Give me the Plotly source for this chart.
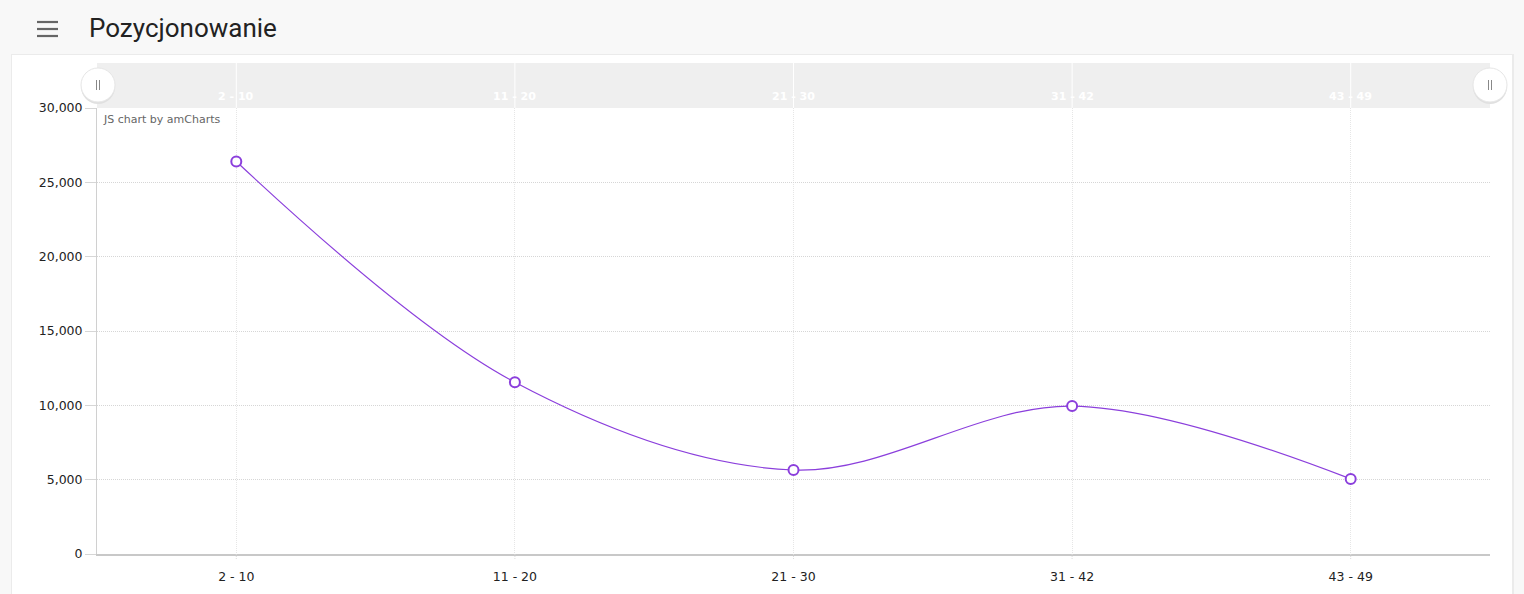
import plotly.graph_objects as go

categories = ["2 - 10", "11 - 20", "21 - 30", "31 - 42", "43 - 49"]
values = [26400, 11550, 5650, 9950, 5050]
y_ticks = [0, 5000, 10000, 15000, 20000, 25000, 30000]
y_tick_labels = ["0", "5,000", "10,000", "15,000", "20,000", "25,000", "30,000"]
title_text = "Pozycjonowanie"

W, H = 1524, 594
px0, px1 = 97, 1490
py_top, py_bot = 108, 554
def fx(p): return p / W
def fy(p): return min(1.0, max(0.0, 1 - p / H))

purple = "#8b3fdc"
tick_font = dict(family="DejaVu Sans, Verdana, sans-serif", size=12.5, color="#222")

fig = go.Figure()
fig.add_trace(go.Scatter(
    x=categories, y=values, mode="lines+markers",
    line=dict(color=purple, width=1.2, shape="spline", smoothing=1.0),
    marker=dict(size=10, color="white", line=dict(color=purple, width=2)),
    hoverinfo="x+y", showlegend=False, cliponaxis=False,
))

shapes = []
shapes.append(dict(type="rect", xref="paper", yref="paper", x0=0, x1=1, y0=0, y1=1,
                   fillcolor="#f8f8f8", line_width=0, layer="below"))
shapes.append(dict(type="rect", xref="paper", yref="paper", x0=fx(11), x1=fx(1514), y0=0, y1=fy(54),
                   fillcolor="#ebebeb", line_width=0, layer="below"))
shapes.append(dict(type="rect", xref="paper", yref="paper", x0=fx(12), x1=fx(1512), y0=0, y1=fy(55),
                   fillcolor="white", line_width=0, layer="below"))
shapes.append(dict(type="rect", xref="paper", yref="paper", x0=fx(px0), x1=fx(px1), y0=fy(py_top), y1=fy(63),
                   fillcolor="#efefef", line_width=0, layer="below"))
for yy in (22, 29, 36):
    shapes.append(dict(type="line", xref="paper", yref="paper", x0=fx(37), x1=fx(58), y0=fy(yy), y1=fy(yy),
                       line=dict(color="#666", width=2.2)))
for c in categories:
    shapes.append(dict(type="line", xref="x", yref="paper", x0=c, x1=c, y0=fy(py_top), y1=fy(63),
                       line=dict(color="white", width=1), layer="below"))
    shapes.append(dict(type="line", xref="x", yref="paper", x0=c, x1=c, y0=fy(py_bot), y1=fy(560),
                       line=dict(color="#dddddd", width=1, dash="1px,1px")))

annotations = []
annotations.append(dict(text=title_text, xref="paper", yref="paper", x=fx(87), y=fy(28), xanchor="left",
                        yanchor="middle", showarrow=False,
                        font=dict(family="Roboto, sans-serif", size=26, color="#222")))
annotations.append(dict(text="JS chart by amCharts", xref="paper", yref="paper", x=fx(101), y=fy(120),
                        xanchor="left", yanchor="middle", showarrow=False,
                        font=dict(family="DejaVu Sans, Verdana, sans-serif", size=11, color="#666")))
for c in categories:
    annotations.append(dict(text="<b>" + c + "</b>", xref="x", yref="paper", x=c, y=fy(97),
                            xanchor="center", yanchor="middle", showarrow=False,
                            font=dict(family="DejaVu Sans, Verdana, sans-serif", size=11, color="white")))

fig.update_layout(
    width=W, height=H, margin=dict(l=0, r=0, t=0, b=0, pad=0), autosize=False,
    paper_bgcolor="#f8f8f8", plot_bgcolor="white",
    shapes=shapes, annotations=annotations,
    xaxis=dict(domain=[fx(px0), fx(px1)], type="category", range=[-0.5, 4.5],
               showgrid=True, gridcolor="#e6e6e6", griddash="1px,1px", gridwidth=1,
               showline=True, linecolor="#c8c8c8", linewidth=1.5, automargin=False,
               ticks="", tickfont=tick_font, ticklabelstandoff=10, zeroline=False, fixedrange=True),
    yaxis=dict(domain=[fy(py_bot), fy(py_top)], range=[0, 30000],
               tickvals=y_ticks, ticktext=y_tick_labels, automargin=False,
               showgrid=True, gridcolor="#d6d6d6", griddash="1px,1px", gridwidth=1,
               showline=True, linecolor="#d0d0d0", linewidth=1,
               ticks="outside", ticklen=11, tickcolor="#d6d6d6",
               tickfont=tick_font, zeroline=False, fixedrange=True),
    hovermode="closest",
)

for gx in (98, 1490):
    fig.add_shape(type="circle", xref="paper", yref="paper",
                  x0=fx(gx - 17), x1=fx(gx + 17), y0=fy(85 + 17 + 2), y1=fy(85 - 17 + 2),
                  fillcolor="#e0e0e0", line_width=0)
    fig.add_shape(type="circle", xref="paper", yref="paper",
                  x0=fx(gx - 17), x1=fx(gx + 17), y0=fy(85 + 17), y1=fy(85 - 17),
                  fillcolor="white", line=dict(color="#e6e6e6", width=1))
    for dx in (-1.5, 1.5):
        fig.add_shape(type="line", xref="paper", yref="paper", x0=fx(gx + dx), x1=fx(gx + dx),
                      y0=fy(80), y1=fy(90), line=dict(color="#888", width=1))

fig.write_html("out.html", config={"displayModeBar": False},
               post_script="document.body.style.margin='0';document.body.style.overflow='hidden';")
